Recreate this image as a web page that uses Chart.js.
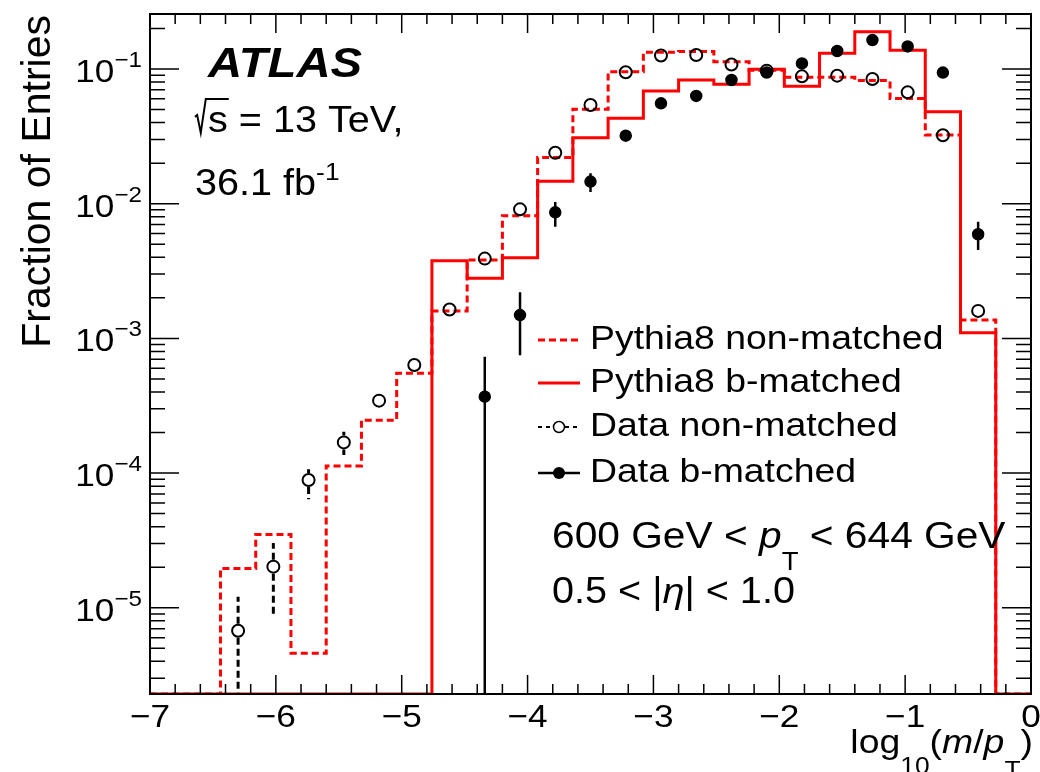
<!DOCTYPE html>
<html>
<head>
<meta charset="utf-8">
<title>log10(m/pT) — b-matched vs non-matched jets</title>
<script src="https://cdn.jsdelivr.net/npm/chart.js@4.4.0/dist/chart.umd.min.js"></script>
<style>
  html, body { margin: 0; padding: 0; background: #fff; }
  canvas { display: block; }
</style>
</head>
<body>
<canvas id="massChart" width="1040" height="772"></canvas>
<script>
// histogram binning in log10(m/pT)
const binEdges = [-7.00, -6.72, -6.44, -6.16, -5.88, -5.60, -5.32, -5.04, -4.76, -4.48,
  -4.20, -3.92, -3.64, -3.36, -3.08, -2.80, -2.52, -2.24, -1.96, -1.68,
  -1.40, -1.12, -0.84, -0.56, -0.28, 0.00];

// simulation, fraction of entries per bin
const pythiaNonMatched = [0, 0, 1.96e-5, 3.5e-5, 4.6e-6, 1.13e-4, 2.47e-4, 5.5e-4, 1.6e-3, 3.82e-3,
  8.15e-3, 2.2e-2, 5.02e-2, 9.55e-2, 0.133, 0.135, 0.113, 0.098, 0.087, 0.087,
  0.082, 0.0605, 0.0324, 1.37e-3, 0];
const pythiaBMatched = [0, 0, 0, 0, 0, 0, 0, 0, 3.77e-3, 2.79e-3,
  3.97e-3, 1.47e-2, 3.09e-2, 4.3e-2, 6.87e-2, 8.28e-2, 7.69e-2, 9.95e-2, 7.44e-2, 0.131,
  0.189, 0.138, 0.0482, 1.10e-3, 0];

// data, with up / down uncertainties
const dataNonMatched = [null, null, 6.76e-6, 2.02e-5, 8.89e-5, 1.69e-4, 3.45e-4, 6.34e-4, 1.64e-3, 3.91e-3,
  9.08e-3, 2.39e-2, 0.054, 0.0945, 0.126, 0.127, 0.108, 0.0972, 0.0882, 0.0892,
  0.0843, 0.0671, 0.0322, 1.6e-3, null];
const dataNonErrUp = [0, 0, 5.3e-6, 1.0e-5, 1.8e-5, 3.4e-5, 2e-5, 0, 0, 0,
  0, 0, 0, 0, 0, 0, 0, 0, 0, 0, 0, 0, 0, 0, 0];
const dataNonErrDown = [0, 0, 6.76e-6, 1.16e-5, 2.5e-5, 3.3e-5, 2e-5, 0, 0, 0,
  0, 0, 0, 0, 0, 0, 0, 0, 0, 0, 0, 0, 0, 0, 0];

const dataBMatched = [null, null, null, null, null, null, null, null, null, 3.69e-4,
  1.49e-3, 8.63e-3, 1.46e-2, 0.032, 0.0556, 0.0631, 0.0828, 0.094, 0.110, 0.136,
  0.164, 0.147, 0.094, 5.93e-3, null];
const dataBErrUp = [0, 0, 0, 0, 0, 0, 0, 0, 0, 3.62e-4,
  7.1e-4, 1.67e-3, 2.2e-3, 0, 0, 0, 0, 0, 0, 0, 0, 0, 0, 1.41e-3, 0];
const dataBErrDown = [0, 0, 0, 0, 0, 0, 0, 0, 0, 3.69e-4,
  7.4e-4, 1.88e-3, 2.4e-3, 0, 0, 0, 0, 0, 0, 0, 0, 0, 0, 1.40e-3, 0];

const xTickLabels = [-7, -6, -5, -4, -3, -2, -1, 0];
const yDecades = [-5, -4, -3, -2, -1];

const X_MIN = -7, X_MAX = 0;
const Y_MIN = 2.29e-6, Y_MAX = 0.256;

const FONT = '"Liberation Sans", Arial, Helvetica, sans-serif';
const STRETCH = 1.1; // ROOT's helvetica renders a bit wider than Liberation
const RED = '#ff0000';

const binCenters = binEdges.slice(0, -1).map((e, i) => (e + binEdges[i + 1]) / 2);

// left-edge points for a stepped histogram; empty bins sit on the axis floor
function stepPoints(vals) {
  const pts = vals.map((v, i) => ({ x: binEdges[i], y: v > 0 ? v : Y_MIN }));
  pts.push({ x: binEdges[vals.length], y: pts[pts.length - 1].y });
  return pts;
}

function markerPoints(vals, up, down) {
  const pts = [];
  vals.forEach((v, i) => {
    if (v == null) return;
    pts.push({ x: binCenters[i], y: v, up: up[i], down: down[i] });
  });
  return pts;
}

// text runs: [{t, size, dy, style}]
function runFont(r) {
  return `${r.style || ''} ${r.size}px ${FONT}`;
}
function drawRuns(ctx, runs, x, y, align, stretch = STRETCH) {
  let total = 0;
  runs.forEach(r => { ctx.font = runFont(r); total += ctx.measureText(r.t).width * stretch; });
  let cx = align === 'right' ? x - total : align === 'center' ? x - total / 2 : x;
  runs.forEach(r => {
    ctx.font = runFont(r);
    const w = ctx.measureText(r.t).width * stretch;
    ctx.save();
    ctx.translate(cx, y + (r.dy || 0));
    ctx.scale(stretch, 1);
    ctx.textAlign = 'left';
    ctx.textBaseline = 'alphabetic';
    ctx.fillText(r.t, 0, 0);
    ctx.restore();
    cx += w;
  });
  return cx;
}

const errorBars = {
  id: 'errorBars',
  afterDatasetsDraw(chart) {
    const { ctx, chartArea: a, scales: { x, y } } = chart;
    chart.data.datasets.forEach(ds => {
      if (!ds.errorBars) return;
      ctx.save();
      ctx.beginPath();
      ctx.rect(a.left, a.top, a.width, a.height);
      ctx.clip();
      ctx.strokeStyle = '#000';
      ctx.lineWidth = ds.errorWidth;
      ctx.setLineDash(ds.errorDash || []);
      ctx.beginPath();
      ds.data.forEach(p => {
        const px = x.getPixelForValue(p.x);
        const py = y.getPixelForValue(p.y);
        const hi = y.getPixelForValue(p.y + p.up);
        const lowVal = p.y - p.down;
        const lo = lowVal > Y_MIN ? y.getPixelForValue(lowVal) : a.bottom;
        const gap = ds.errorGap;
        if (py - hi > gap) { ctx.moveTo(px, py - gap); ctx.lineTo(px, hi); }
        if (lo - py > gap) { ctx.moveTo(px, py + gap); ctx.lineTo(px, lo); }
      });
      ctx.stroke();
      ctx.restore();
    });
  }
};

const axisFrame = {
  id: 'axisFrame',
  afterDraw(chart) {
    const { ctx, chartArea: a, scales: { x, y } } = chart;
    ctx.save();
    ctx.strokeStyle = '#000';
    ctx.fillStyle = '#000';

    // ticks on all four sides, pointing inwards
    ctx.lineWidth = 1.5;
    ctx.beginPath();
    for (let i = 0; i <= 35; i++) {
      const px = x.getPixelForValue(X_MIN + i * 0.2);
      const len = i % 5 === 0 ? 19 : 10;
      ctx.moveTo(px, a.bottom); ctx.lineTo(px, a.bottom - len);
      ctx.moveTo(px, a.top); ctx.lineTo(px, a.top + len);
    }
    for (let e = -6; e <= -1; e++) {
      for (let k = 1; k <= 9; k++) {
        const v = k * Math.pow(10, e);
        if (v < Y_MIN || v > Y_MAX) continue;
        const py = y.getPixelForValue(v);
        const len = k === 1 ? 29 : 15;
        ctx.moveTo(a.left, py); ctx.lineTo(a.left + len, py);
        ctx.moveTo(a.right, py); ctx.lineTo(a.right - len, py);
      }
    }
    ctx.stroke();

    ctx.lineWidth = 2;
    ctx.strokeRect(a.left, a.top, a.width, a.height);

    // tick labels
    xTickLabels.forEach(v => {
      const t = v < 0 ? '\u2212' + Math.abs(v) : String(v);
      drawRuns(ctx, [{ t, size: 32 }], x.getPixelForValue(v), 727, 'center');
    });
    yDecades.forEach(e => {
      const py = y.getPixelForValue(Math.pow(10, e));
      drawRuns(ctx, [
        { t: '10', size: 32 },
        { t: '\u2212' + Math.abs(e), size: 22, dy: -15 }
      ], 142, py + 13, 'right');
    });

    // axis titles
    drawRuns(ctx, [
      { t: 'log', size: 34 },
      { t: '10', size: 24, dy: 21 },
      { t: '(', size: 34 },
      { t: 'm', size: 34, style: 'italic' },
      { t: '/', size: 34 },
      { t: 'p', size: 34, style: 'italic' },
      { t: 'T', size: 24, dy: 25 },
      { t: ')', size: 34 }
    ], 1033, 753, 'right');

    ctx.save();
    ctx.translate(50, 15);
    ctx.rotate(-Math.PI / 2);
    drawRuns(ctx, [{ t: 'Fraction of Entries', size: 41 }], 0, 0, 'right', 1);
    ctx.restore();

    // ATLAS label block
    drawRuns(ctx, [{ t: 'ATLAS', size: 43, style: 'italic bold' }], 208, 77, 'left');

    const S = 36, x0 = 195, base = 132;
    const sx = x0 + 0.36 * S;
    ctx.font = runFont({ size: S });
    const sEnd = sx + ctx.measureText('s').width * STRETCH;
    ctx.lineWidth = 2;
    ctx.beginPath();
    ctx.moveTo(x0, base - 0.42 * S);
    ctx.lineTo(x0 + 0.06 * S, base - 0.47 * S);
    ctx.lineTo(x0 + 0.16 * S, base + 0.02 * S);
    ctx.lineTo(x0 + 0.3 * S, base - 0.92 * S);
    ctx.lineTo(sEnd + 1, base - 0.92 * S);
    ctx.stroke();
    drawRuns(ctx, [{ t: 's = 13 TeV,', size: S }], sx, base, 'left');
    drawRuns(ctx, [
      { t: '36.1 fb', size: S },
      { t: '-1', size: 24, dy: -15 }
    ], x0, 195, 'left');

    // kinematic selection
    drawRuns(ctx, [
      { t: '600 GeV < ', size: 37 },
      { t: 'p', size: 37, style: 'italic' },
      { t: 'T', size: 25, dy: 22 },
      { t: ' < 644 GeV', size: 37 }
    ], 552, 548, 'left');
    drawRuns(ctx, [
      { t: '0.5 < |', size: 36 },
      { t: '\u03b7', size: 36, style: 'italic' },
      { t: '| < 1.0', size: 36 }
    ], 552, 603, 'left');

    // legend
    const LX0 = 538, LX1 = 580, LXC = 559;
    const rows = [
      { y: 340, label: 'Pythia8 non-matched' },
      { y: 383, label: 'Pythia8 b-matched' },
      { y: 427, label: 'Data non-matched' },
      { y: 473, label: 'Data b-matched' }
    ];
    ctx.strokeStyle = RED;
    ctx.lineWidth = 3;
    ctx.setLineDash([7, 4]);
    ctx.beginPath(); ctx.moveTo(LX0, rows[0].y); ctx.lineTo(LX1, rows[0].y); ctx.stroke();
    ctx.setLineDash([]);
    ctx.beginPath(); ctx.moveTo(LX0, rows[1].y); ctx.lineTo(LX1, rows[1].y); ctx.stroke();

    ctx.strokeStyle = '#000';
    ctx.lineWidth = 2;
    ctx.setLineDash([4, 4]);
    ctx.beginPath();
    ctx.moveTo(LX0, rows[2].y); ctx.lineTo(LXC - 6, rows[2].y);
    ctx.moveTo(LXC + 6, rows[2].y); ctx.lineTo(LX1, rows[2].y);
    ctx.stroke();
    ctx.setLineDash([]);
    ctx.lineWidth = 1.5;
    ctx.beginPath(); ctx.arc(LXC, rows[2].y, 5.5, 0, Math.PI * 2); ctx.stroke();

    ctx.lineWidth = 2.5;
    ctx.beginPath(); ctx.moveTo(LX0, rows[3].y); ctx.lineTo(LX1, rows[3].y); ctx.stroke();
    ctx.beginPath(); ctx.arc(LXC, rows[3].y, 6, 0, Math.PI * 2); ctx.fill();

    rows.forEach(r => drawRuns(ctx, [{ t: r.label, size: 34 }], 590, r.y + 9, 'left'));

    ctx.restore();
  }
};

new Chart(document.getElementById('massChart'), {
  type: 'line',
  data: {
    datasets: [
      {
        label: 'Data b-matched',
        data: markerPoints(dataBMatched, dataBErrUp, dataBErrDown),
        showLine: false,
        pointRadius: 5.5,
        pointBackgroundColor: '#000',
        pointBorderColor: '#000',
        pointBorderWidth: 1.5,
        errorBars: true,
        errorWidth: 2.5,
        errorGap: 5
      },
      {
        label: 'Data non-matched',
        data: markerPoints(dataNonMatched, dataNonErrUp, dataNonErrDown),
        showLine: false,
        pointRadius: 6,
        pointBackgroundColor: 'rgba(0,0,0,0)',
        pointBorderColor: '#000',
        pointBorderWidth: 2,
        errorBars: true,
        errorWidth: 3,
        errorDash: [7, 4],
        errorGap: 7
      },
      {
        label: 'Pythia8 b-matched',
        data: stepPoints(pythiaBMatched),
        stepped: 'before',
        borderColor: RED,
        borderWidth: 3,
        pointRadius: 0,
        fill: false
      },
      {
        label: 'Pythia8 non-matched',
        data: stepPoints(pythiaNonMatched),
        stepped: 'before',
        borderColor: RED,
        borderWidth: 3,
        borderDash: [7, 4],
        pointRadius: 0,
        fill: false
      }
    ]
  },
  options: {
    responsive: false,
    animation: false,
    events: [],
    layout: { padding: { left: 150, right: 9, top: 14, bottom: 78 } },
    plugins: {
      legend: { display: false },
      tooltip: { enabled: false }
    },
    scales: {
      x: { type: 'linear', min: X_MIN, max: X_MAX, display: false },
      y: { type: 'logarithmic', min: Y_MIN, max: Y_MAX, display: false }
    }
  },
  plugins: [errorBars, axisFrame]
});
</script>
</body>
</html>
